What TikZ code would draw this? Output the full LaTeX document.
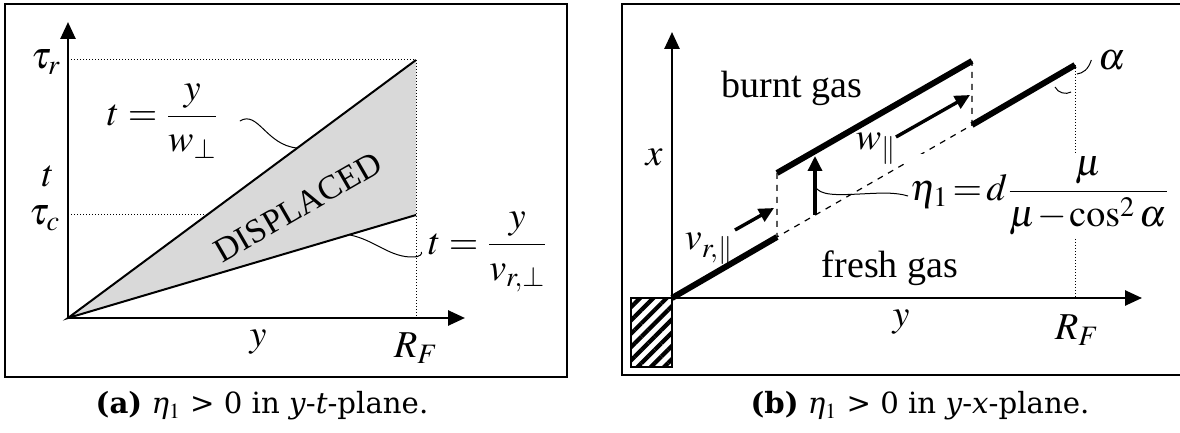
\documentclass[tikz,border=0pt]{standalone}
\usepackage{amsmath}
\usepackage{mathptmx}
\usepackage{fontspec}
\setmainfont{Liberation Serif}
\newfontfamily\captfont{DejaVu Serif}
\usetikzlibrary{arrows.meta, calc, patterns.meta}
\newcommand{\labelsize}{\fontsize{19}{23}\selectfont}

\begin{document}
\begin{tikzpicture}[x=0.5pt, y=-0.5pt, font=\labelsize,
  frame/.style={line width=1.3pt},
  axis/.style={line width=1.3pt, -{Triangle[length=8.5pt,width=7.5pt]}},
  edge/.style={line width=1pt},
  guide/.style={line width=0.5pt, densely dotted},
  leader/.style={line width=0.5pt},
  flame/.style={line width=3pt},
  vel/.style={line width=1.7pt, -{Triangle[length=7.5pt,width=7pt]}},
  aux/.style={line width=0.6pt, dashed},
  caption/.style={font=\captfont\fontsize{14.6}{18}\selectfont}]
  \useasboundingbox (0,0) rectangle (1180,433);
  % (a) y-t-plane
  \draw[frame] (5,4) rectangle (567,377);
  \coordinate (o) at (68,318);
  \coordinate (tr) at (416,60);
  \coordinate (tc) at (416,215);
  \coordinate (pw) at (297,148);
  \coordinate (pv) at (350,235);
  \draw[guide] (o |- tc) -- (tc);
  \fill[black!15] (o) -- (tr) -- (tc) -- cycle;
  \draw[guide] (o |- tr) -- (tr) -- (o -| tr);
  \draw[edge] (tr) -- (o) -- (tc);
  \draw[axis] (o) -- (68,22);
  \draw[axis] (o) -- (465,318);
  \node (taur) at (46,62) {$\tau_r$};
  \node (tlab) at (48,176) {$t$};
  \node (tauc) at (45,218) {$\tau_c$};
  \node (ylab) at (258,342) {$y$};
  \node (rfa) at (416,348) {$R_F$};
  \node[rotate=30, font=\fontsize{17}{20}\selectfont] (disp) at (298,207) {DISPLACED};
  \node (eqw) at (163,121) {$t=\dfrac{y}{w_\perp}$};
  \node (eqv) at (488,252) {$t=\dfrac{y}{v_{r,\perp}}$};
  \draw[leader] ($(eqw.east)+(14,0)$) .. controls (258,110) and (266,145) .. (pw);
  \draw[leader] (pv) .. controls (375,240) and (390,258) .. (414,257)
    .. controls (419,257) and (423,254) .. (eqv.west);
  % (b) y-x-plane
  \draw[frame] (622,4) rectangle (1190,375);
  \coordinate (O) at (672,298);
  \coordinate (f1) at (777,237);
  \coordinate (f2) at (777,173);
  \coordinate (f3) at (972,61);
  \coordinate (f4) at (972,125);
  \coordinate (f5) at (1075,65);
  \coordinate (pe) at (815,186);
  \fill[pattern={Lines[angle=45,distance=4.7pt,line width=2.1pt]}] (631,298) rectangle (O |- 0,367);
  \draw[line width=1pt] (631,298) rectangle (O |- 0,367);
  \draw[guide] (f5) -- (f5 |- O);
  \draw[axis] (O) -- (672,32);
  \draw[axis] (O) -- (1142,298);
  \draw[flame] (O) -- (f1) (f2) -- (f3) (f4) -- (f5);
  \draw[aux] (f2) -- (f1) -- (f4) -- (f3);
  \draw[vel] (735,230) -- (774,208);
  \draw[vel] (896,137) -- (970,95);
  \draw[vel] (815,215) -- (815,156);
  \node (xlab) at (654,157) {$x$};
  \node (ylb) at (901,322) {$y$};
  \node (rfb) at (1077,330) {$R_F$};
  \node (burnt) at (792,88) {burnt gas};
  \node (fresh) at (890,268) {fresh gas};
  \node (vr) at (709,249) {$v_{r,\parallel}$};
  \node (wp) at (876,149) {$w_\parallel$};
  \node (alph) at (1112,60) {$\alpha$};
  \node[fill=white, anchor=west, inner sep=1pt] (eqeta) at (908,196)
    {$\thickmuskip=2mu \medmuskip=1mu \eta_1=d\dfrac{\mu}{\mu-\cos^2\alpha}$};
  \draw[leader] (pe) .. controls (819,196) and (838,195) .. (860,194)
    .. controls (880,193) and (895,192) .. (eqeta.west);
  \draw[leader] (alph.west) .. controls (1088,70) and (1083,73) .. (1077,74);
  \draw[leader] (1055,87) .. controls (1058,93) and (1066,95) .. (1071,92);
  % captions
  \node[caption] (capa) at (262,406) {\textbf{(a)} \textit{η}$_1$ > 0 in \textit{y}-\textit{t}-plane.};
  \node[caption] (capb) at (920,406) {\textbf{(b)} \textit{η}$_1$ > 0 in \textit{y}-\textit{x}-plane.};
\end{tikzpicture}
\end{document}
